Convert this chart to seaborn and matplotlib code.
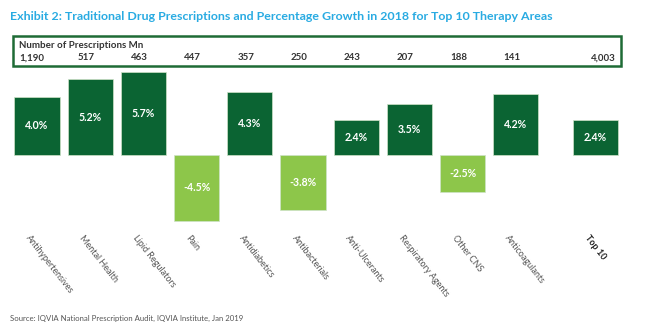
import numpy as np
import pandas as pd
import matplotlib
matplotlib.use("Agg")
import matplotlib.pyplot as plt
import seaborn as sns
from matplotlib.patches import Rectangle

categories = ["Antihypertensives", "Mental Health", "Lipid Regulators", "Pain",
              "Antidiabetics", "Antibacterials", "Anti-Ulcerants",
              "Respiratory Agents", "Other CNS", "Anticoagulants", "Top 10"]
growth = [4.0, 5.2, 5.7, -4.5, 4.3, -3.8, 2.4, 3.5, -2.5, 4.2, 2.4]
prescriptions = ["1,190", "517", "463", "447", "357", "250", "243", "207", "188", "141", "4,003"]

sns.set_theme(style="white")
plt.rcParams['font.family'] = ['Lato', 'DejaVu Sans']

DARK = "#0B6433"
LIGHT = "#8DC64A"

pos = np.append(np.arange(len(categories) - 1), len(categories) - 0.5)
df = pd.DataFrame({"pos": pos, "growth": growth,
                   "sign": ["pos" if g >= 0 else "neg" for g in growth]})

fig = plt.figure(figsize=(6.56, 3.33), dpi=100)
W, H = 656, 333
px_left, px_right, px_top, px_bot = 8, 640, 62, 228
ax = fig.add_axes([px_left / W, 1 - px_bot / H, (px_right - px_left) / W, (px_bot - px_top) / H])

sns.barplot(data=df, x="pos", y="growth", hue="sign", native_scale=True,
            palette={"pos": DARK, "neg": LIGHT}, width=0.85, legend=False,
            edgecolor="#cfe3c8", linewidth=0.5, saturation=1, ax=ax)

scale = 53.2
ax.set_xlim((px_left - 37) / scale, (px_right - 37) / scale)
ax.set_ylim(-(px_bot - 155) / 14.6, (155 - px_top) / 14.6)
ax.set_axis_off()

for x, g in zip(pos, growth):
    ax.text(x, g / 2, f"{g:.1f}%", ha="center", va="center", color="white",
            fontsize=7.6, fontweight="bold")

for i, (x, c) in enumerate(zip(pos, categories)):
    is_total = i == len(categories) - 1
    ax.annotate(c, xy=(x, 0), xycoords=("data", "axes fraction"),
                xytext=(-4, -4), textcoords="offset points",
                rotation=-52, rotation_mode="anchor", ha="left", va="top",
                fontsize=6.5, color="#222222" if is_total else "#555555",
                fontweight="bold" if is_total else "normal")

fig.text(10 / W, 1 - 16 / H, "Exhibit 2: Traditional Drug Prescriptions and Percentage Growth in 2018 for Top 10 Therapy Areas",
         ha="left", va="center", fontsize=8.9, fontweight="bold", color="#29ABE2")

fig.patches.append(Rectangle((13 / W, 1 - 66 / H), (621 - 13) / W, (66 - 36) / H,
                             transform=fig.transFigure, fill=False,
                             edgecolor="#1E6B35", linewidth=1.8))
fig.text(19 / W, 1 - 45 / H, "Number of Prescriptions Mn", ha="left", va="center",
         fontsize=7, fontweight="bold", color="#333333")
for i, (x, p) in enumerate(zip(pos, prescriptions)):
    px = 37 + x * scale
    kw = dict(va="center", fontsize=7, fontweight="bold", color="#333333")
    if i == 0:
        fig.text(19 / W, 1 - 58 / H, p, ha="left", **kw)
    elif i == len(prescriptions) - 1:
        fig.text(616 / W, 1 - 58 / H, p, ha="right", **kw)
    else:
        fig.text((px - 4) / W, 1 - 58 / H, p, ha="center", **kw)

fig.text(10 / W, 1 - 318 / H, "Source: IQVIA National Prescription Audit, IQVIA Institute, Jan 2019",
         ha="left", va="center", fontsize=5.6, color="#555555")

fig.savefig("out.png", dpi=100)
